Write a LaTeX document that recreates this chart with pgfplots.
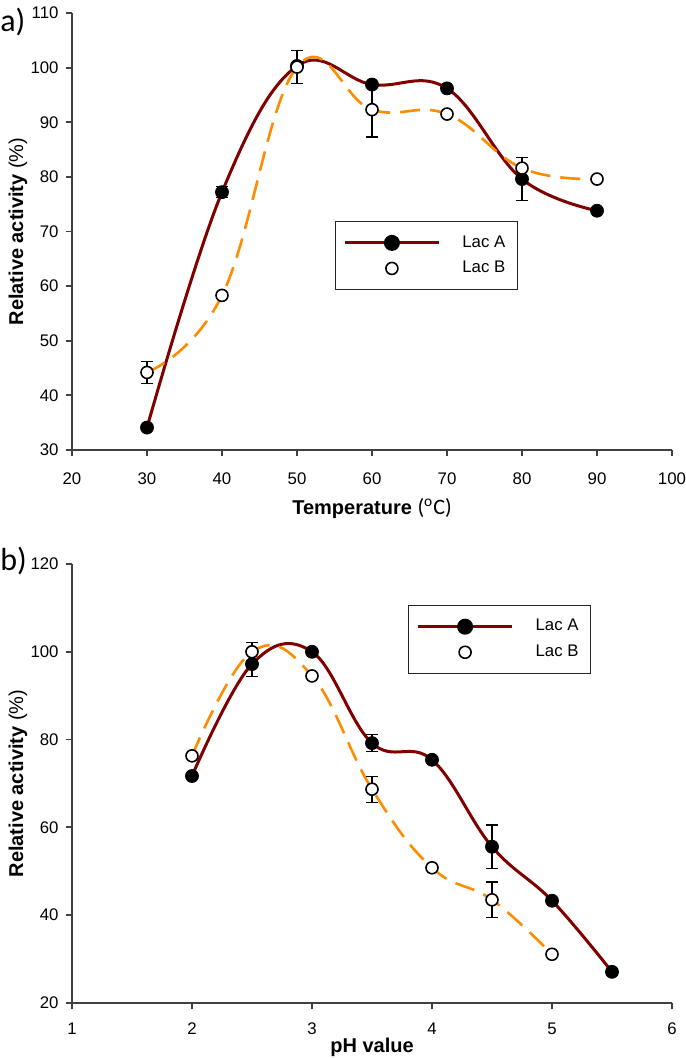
\documentclass[border=0pt]{standalone}
\usepackage{fontspec}
\setmainfont{Liberation Sans}
\newfontfamily\calibri{Carlito}
\usepackage{pgfplots}
\usepackage{pgfplotstable}
\pgfplotsset{compat=1.18}
\definecolor{lacA}{RGB}{128,0,0}
\definecolor{lacB}{RGB}{255,140,0}

% plot a data
\pgfplotstableread{
x y e
30 34.1 0
40 77.2 1.0
50 100.3 0
60 96.9 0
70 96.2 0
80 79.6 4.0
90 73.8 0
}\tempA
\pgfplotstableread{
x y e
30 44.2 2.0
40 58.3 0
50 100.1 3.0
60 92.3 5.0
70 91.5 0
80 81.6 2.0
90 79.6 0
}\tempB
\pgfplotstableread{
x y e
40 77.2 1.0
80 79.6 4.0
}\tempAerr
\pgfplotstableread{
x y e
30 44.2 2.0
50 100.1 3.0
60 92.3 5.0
80 81.6 2.0
}\tempBerr
% plot b data
\pgfplotstableread{
x y e
2 71.7 0
2.5 97.2 2.9
3 100 0
3.5 79.2 1.95
4 75.4 0
4.5 55.6 4.95
5 43.3 0
5.5 27.1 0.8
}\phA
\pgfplotstableread{
x y e
2 76.3 0
2.5 100 2.2
3 94.5 0
3.5 68.7 2.95
4 50.8 0
4.5 43.5 4.05
5 31.1 0
}\phB
\pgfplotstableread{
x y e
2.5 97.2 2.9
3.5 79.2 1.95
4.5 55.6 4.95
5.5 27.1 0.8
}\phAerr
\pgfplotstableread{
x y e
2.5 100 2.2
3.5 68.7 2.95
4.5 43.5 4.05
}\phBerr

\pgfplotsset{
  myaxis/.style={
    scale only axis, width=300pt,
    axis x line=bottom, axis y line=left,
    axis line style={-, line width=0.9pt, black!75},
    tick align=outside, major tick length=3.2pt,
    every tick/.style={black!75, line width=0.9pt},
    tick label style={font=\fontsize{8.4}{9}\selectfont},
    /pgf/number format/assume math mode=true,
    label style={font=\fontsize{10}{12}\selectfont},
    every axis y label/.style={at={(axis description cs:-0.09,0.5)}, rotate=90, anchor=center},
    legend image code/.code={\draw[mark repeat=2,mark phase=2,##1] plot coordinates {(0pt,0pt)(23.5pt,0pt)(47pt,0pt)};},
    legend style={draw=black!85, line width=0.6pt, font=\fontsize{8.4}{9}\selectfont,
      inner xsep=4pt, inner ysep=5pt, row sep=1.5pt, column sep=9pt,
      cells={anchor=west}},
    lineA/.style={lacA, line width=1.5pt, smooth, tension=0.65, mark=none, forget plot},
    lineB/.style={lacB, line width=1.3pt, smooth, tension=0.7, mark=none, dash pattern=on 10pt off 5pt, forget plot},
    marksA/.style={only marks, mark=*, mark size=3.25pt, mark options={fill=black, draw=black, solid}, forget plot},
    marksB/.style={only marks, mark=*, mark size=3pt, mark options={fill=white, draw=black, line width=0.8pt, solid}, forget plot},
    errs/.style={forget plot, draw=none, mark=none,
      error bars/.cd, y dir=both, y explicit,
      error bar style={black, line width=0.6pt, solid},
      error mark options={black, mark size=3pt, line width=0.6pt, solid, rotate=90}},
  }
}

\begin{document}
\begin{tikzpicture}
% ---------------- plot a ----------------
\begin{axis}[myaxis, name=pa, at={(0,276.5pt)}, anchor=south west, height=218.5pt,
  xmin=20, xmax=100, ymin=30, ymax=110,
  xtick={20,30,...,100}, ytick={30,40,...,110},
  xticklabel style={yshift=-4.5pt},
  xlabel={\textbf{Temperature} {\calibri\fontsize{11}{12}\selectfont (\textsuperscript{o}C)}},
  ylabel={\textbf{Relative activity} (\%)},
  every axis x label/.style={at={(axis description cs:0.5,-0.133)}, anchor=center},
  legend style={at={(0.438,0.524)}, anchor=north west}]
\addplot[lineA] table[x=x,y=y] {\tempA};
\addplot[lineB] table[x=x,y=y] {\tempB};
\addplot[errs] table[x=x,y=y,y error=e] {\tempAerr};
\addplot[errs] table[x=x,y=y,y error=e] {\tempBerr};
\addplot[marksA] table[x=x,y=y] {\tempA};
\addplot[marksB] table[x=x,y=y] {\tempB};
\addlegendimage{lacA, line width=1.5pt, mark=*, mark size=3.25pt, mark options={fill=black, draw=black}}
\addlegendentry{Lac A}
\addlegendimage{only marks, mark=*, mark size=3pt, mark options={fill=white, draw=black, line width=0.8pt}}
\addlegendentry{Lac B}
\end{axis}
% ---------------- plot b ----------------
\begin{axis}[myaxis, name=pb, at={(0,0)}, anchor=south west, height=219.5pt,
  xmin=1, xmax=6, ymin=20, ymax=120,
  xtick={1,2,...,6}, ytick={20,40,...,120},
  xticklabel style={yshift=-3pt},
  xlabel={\textbf{pH value}},
  ylabel={\textbf{Relative activity} (\%)},
  every axis x label/.style={at={(axis description cs:0.5,-0.1)}, anchor=center},
  legend style={at={(0.56,0.907)}, anchor=north west}]
\addplot[lineA] table[x=x,y=y] {\phA};
\addplot[lineB] table[x=x,y=y] {\phB};
\addplot[errs] table[x=x,y=y,y error=e] {\phAerr};
\addplot[errs] table[x=x,y=y,y error=e] {\phBerr};
\addplot[marksB] table[x=x,y=y] {\phB};
\addplot[marksA] table[x=x,y=y] {\phA};
\addlegendimage{lacA, line width=1.5pt, mark=*, mark size=3.25pt, mark options={fill=black, draw=black}}
\addlegendentry{Lac A}
\addlegendimage{only marks, mark=*, mark size=3pt, mark options={fill=white, draw=black, line width=0.8pt}}
\addlegendentry{Lac B}
\end{axis}
\node[anchor=west, font=\calibri\fontsize{16}{18}\selectfont, inner sep=0pt] at ([xshift=-36pt,yshift=-4.5pt]pa.north west) {a)};
\node[anchor=west, font=\calibri\fontsize{16}{18}\selectfont, inner sep=0pt] at ([xshift=-36pt,yshift=1.5pt]pb.north west) {b)};
\pgfresetboundingbox
\path (-36pt,-27.5pt) rectangle (306.5pt,501.5pt);
\end{tikzpicture}
\end{document}
